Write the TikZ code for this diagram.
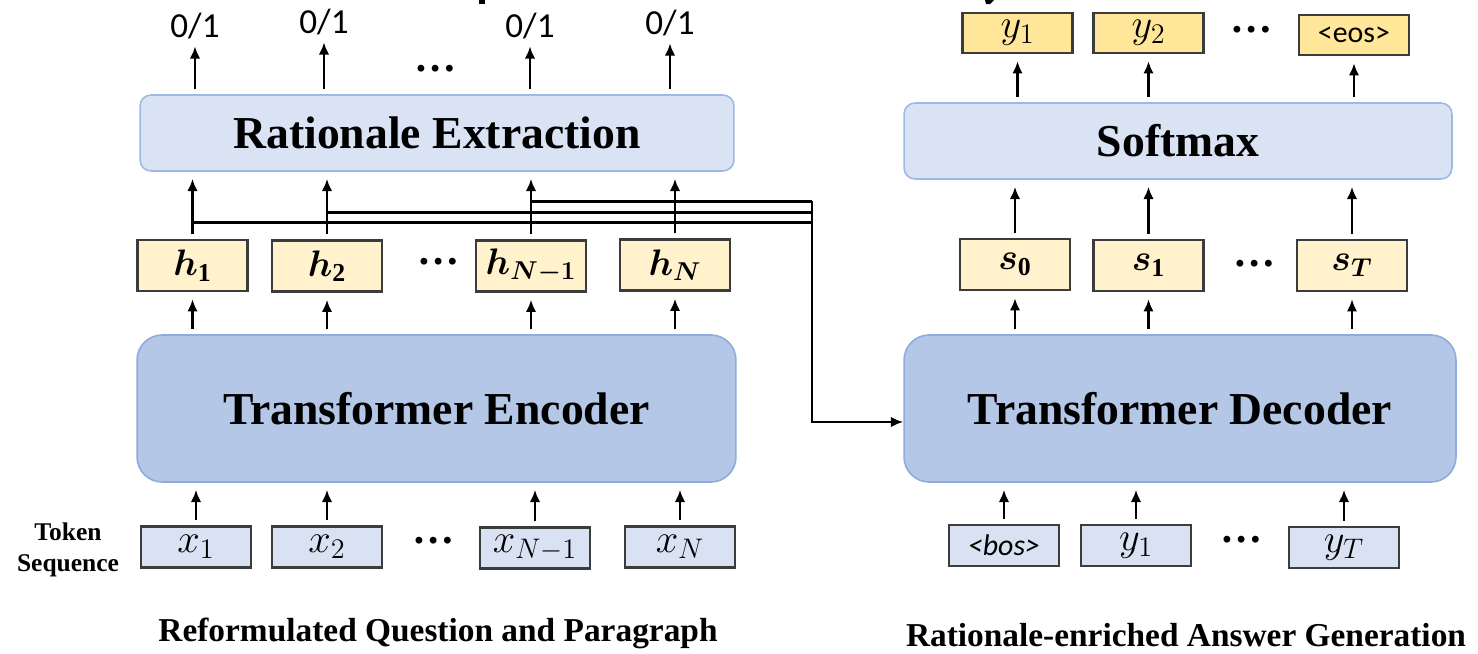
\RequirePackage{fix-cm}
\documentclass[tikz,border=0pt]{standalone}
\usepackage{amsmath,bm}
\usepackage{fontspec}
\setmainfont{Liberation Serif}
\newfontfamily\carlito{Carlito}
\usetikzlibrary{arrows.meta,calc}

\definecolor{panelLight}{HTML}{DAE3F3}
\definecolor{panelEdge}{HTML}{9DB8E3}
\definecolor{blockFill}{HTML}{B4C7E7}
\definecolor{blockEdge}{HTML}{8FAADC}
\definecolor{hidFill}{HTML}{FFF2CC}
\definecolor{outFill}{HTML}{FFE699}
\definecolor{tokFill}{HTML}{D9E2F3}
\definecolor{boxEdge}{HTML}{3C3C3C}

\begin{document}
\begin{tikzpicture}[x=0.02cm,y=-0.02cm,
  panel/.style={draw=panelEdge, fill=panelLight, line width=0.9pt, rounded corners=0.22cm,
    minimum height=1.52cm, inner sep=0pt, font=\fontsize{26}{30}\selectfont\bfseries},
  block/.style={draw=blockEdge, fill=blockFill, line width=0.9pt, rounded corners=0.5cm,
    minimum height=2.94cm, inner sep=0pt, font=\fontsize{26}{30}\selectfont\bfseries},
  cell/.style={draw=boxEdge, line width=1.3pt, minimum width=2.2cm, inner sep=0pt},
  hid/.style={cell, fill=hidFill, minimum height=1.02cm, font=\fontsize{21}{24}\selectfont},
  tok/.style={cell, fill=tokFill, minimum height=0.82cm, font=\fontsize{23}{26}\selectfont},
  outc/.style={cell, fill=outFill, minimum height=0.8cm, font=\fontsize{23}{26}\selectfont},
  ellip/.style={font=\fontsize{24}{26}\selectfont\bfseries, inner sep=0pt},
  flag/.style={font=\carlito\fontsize{20}{24}\selectfont, inner sep=0pt},
  capt/.style={font=\fontsize{19}{23}\selectfont\bfseries, inner sep=0pt},
  arr/.style={-{Latex[length=7pt,width=6pt]}, line width=1.4pt},
  up/.style={arr, shorten <=2.8pt, shorten >=4pt},
  bus/.style={line width=1.6pt}
]
\useasboundingbox (0,0) rectangle (1478,653);

% descender tips of the heading line above the frame
\fill (479,0) rectangle (485,4);
\fill (985,0) -- (994,0) -- (990,4) -- (986,4) -- cycle;

% ---------------- encoder side ----------------
\node[panel, minimum width=11.88cm] (rat) at (437,133) {Rationale Extraction};
\node[block, minimum width=11.98cm] (enc) at (436.5,408.5) {Transformer Encoder};

\node[hid] (h1)  at (192.5,265.5) {$\boldsymbol{h}_{\mathbf{1}}$};
\node[hid] (h2)  at (327,266)     {$\boldsymbol{h}_{\mathbf{2}}$};
\node[hid] (hN1) at (531,266)     {$\boldsymbol{h}_{\boldsymbol{N-1}}$};
\node[hid] (hN)  at (675,265)     {$\boldsymbol{h}_{\boldsymbol{N}}$};
\node[ellip] (hdots) at (439,262) {…};

\node[tok] (x1)  at (196,547) {$x_1$};
\node[tok] (x2)  at (327,547) {$x_2$};
\node[tok] (xN1) at (535,548) {$x_{N-1}$};
\node[tok] (xN)  at (680,547) {$x_N$};
\node[ellip] (xdots) at (434,541) {…};

\node[flag] (o1) at (195,26) {0/1};
\node[flag] (o2) at (324,22) {0/1};
\node[flag] (o3) at (530,26) {0/1};
\node[flag] (o4) at (670,23) {0/1};
\node[ellip] (odots) at (436,69) {…};

\node[font=\fontsize{14.5}{17.6}\selectfont\bfseries, align=center, inner sep=0pt] (toklab) at (68,550) {Token\\Sequence};
\node[capt] (capL) at (438,633) {Reformulated Question and Paragraph};

% ---------------- decoder side ----------------
\node[panel, minimum width=10.96cm] (sm) at (1178,141) {Softmax};
\node[block, minimum width=11.04cm] (dec) at (1180,408.5) {Transformer Decoder};

\node[outc] (yo1) at (1017.5,33) {$y_1$};
\node[outc] (yo2) at (1148.5,33) {$y_2$};
\node[outc] (eos) at (1354,35)   {\carlito\fontsize{17}{20}\selectfont <eos>};
\node[ellip] (ydots) at (1252,30) {…};

\node[hid] (s0) at (1015,264.5)  {$\boldsymbol{s}_{\mathbf{0}}$};
\node[hid] (s1) at (1148.5,265.5){$\boldsymbol{s}_{\mathbf{1}}$};
\node[hid] (sT) at (1352,265.5)  {$\boldsymbol{s}_{\boldsymbol{T}}$};
\node[ellip] (sdots) at (1255,264) {…};

\node[tok] (bos) at (1004,545.5) {\carlito\itshape\fontsize{17}{20}\selectfont <bos>};
\node[tok] (yi1) at (1136,545.5) {$y_1$};
\node[tok] (yiT) at (1344,547.5) {$y_T$};
\node[ellip] (bdots) at (1242,540) {…};

\node[capt] (capR) at (1186,635) {Rationale-enriched Answer Generation};

% ---------------- hidden states routed to the decoder ----------------
\coordinate (busx) at (812,0);
\path ($(h1.north)+(0,-16)$) coordinate (t1)
      ($(h2.north)+(0,-27)$) coordinate (t2)
      ($(hN1.north)+(0,-38)$) coordinate (t3);
\draw[bus] (t1) -- (t1 -| busx);
\draw[bus] (t2) -- (t2 -| busx);
\draw[bus] (t3) -- (t3 -| busx);
\draw[arr, line width=1.6pt] (t3 -| busx) |- ([yshift=-0.27cm]dec.west);

% ---------------- vertical flow, encoder side ----------------
\foreach \b in {x1,x2,xN1,xN} \draw[up] (\b.north) -- (\b.north |- enc.south);
\foreach \h in {h1,h2,hN1,hN} {
  \draw[up] (enc.north -| \h.south) -- (\h.south);
  \draw[up] (\h.north) -- (\h.north |- rat.south);
}
\foreach \o in {o1,o2,o3,o4} \draw[up] (rat.north -| \o.south) -- (\o.south);

% ---------------- vertical flow, decoder side ----------------
\foreach \b in {bos,yi1,yiT} \draw[up] (\b.north) -- (\b.north |- dec.south);
\foreach \s in {s0,s1,sT} {
  \draw[up] (dec.north -| \s.south) -- (\s.south);
  \draw[up] (\s.north) -- (\s.north |- sm.south);
}
\foreach \y in {yo1,yo2,eos} \draw[up] (sm.north -| \y.south) -- (\y.south);
\end{tikzpicture}
\end{document}
